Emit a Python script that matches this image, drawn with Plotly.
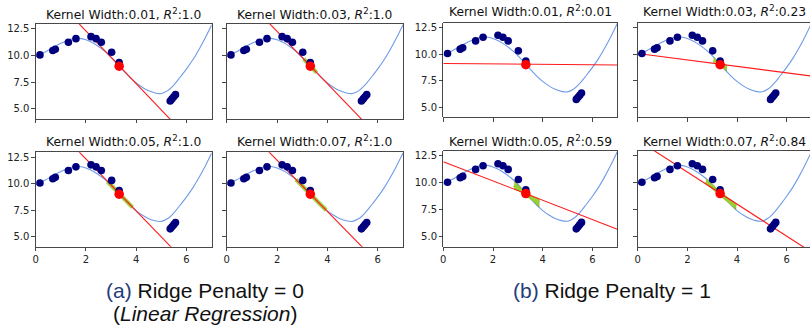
import numpy as np
import plotly.graph_objects as go

# ---------------- data ----------------
curve_x = [0.0, 0.25, 0.5, 0.75, 1.0, 1.25, 1.5, 1.75, 2.0, 2.25, 2.5, 2.75, 3.0, 3.25,
           3.5, 3.75, 4.0, 4.25, 4.5, 4.75, 5.0, 5.25, 5.5, 5.75, 6.0, 6.25, 6.5, 6.75, 7.0]
curve_y = [9.9, 10.2, 10.5, 10.85, 11.15, 11.42, 11.6, 11.62, 11.48, 11.22, 10.85, 10.4, 9.86, 9.2,
           8.55, 7.95, 7.42, 7.0, 6.68, 6.48, 6.43, 6.7, 7.25, 7.98, 8.75, 9.6, 10.6, 11.7, 12.9]

dot_x = [0.17, 0.68, 0.78, 1.30, 1.60, 2.20, 2.40, 2.61, 3.02, 3.32, 5.35, 5.42, 5.49, 5.56]
dot_y = [10.06, 10.47, 10.6, 11.25, 11.59, 11.78, 11.59, 11.25, 10.31, 9.34, 5.72, 5.92, 6.12, 6.32]

inst_x = [3.32]
inst_y = [9.0]

kernel_widths = ["0.01", "0.03", "0.05", "0.07"]
r2_a = ["1.0", "1.0", "1.0", "1.0"]
r2_b = ["0.01", "0.23", "0.59", "0.84"]

# fitted local lines: intercept and slope
line_int_a = [17.27, 17.20, 17.26, 17.08]
line_slope_a = [-2.48, -2.463, -2.463, -2.43]
line_int_b = [9.12, 10.06, 11.97, 13.98]
line_slope_b = [-0.022, -0.305, -0.897, -1.49]

# kernel neighbourhood shown in green
green_lo = [3.30, 3.06, 2.85, 2.75]
green_hi = [3.34, 3.57, 3.85, 3.95]

# ---------------- layout geometry (pixels) ----------------
W, H = 810, 326
col_px = {"a": [(35.7, 211.7), (226.7, 403.0)], "b": [(443.3, 617.3), (637.7, 810.0)]}
row_px = {"a": [(24.0, 119.0), (152.3, 246.7)], "b": [(22.7, 117.3), (150.9, 247.0)]}
title_y = {"a": [14.4, 140.9], "b": [11.2, 140.7]}

fig = go.Figure()
layout = dict(
    width=W, height=H, margin=dict(l=0, r=0, t=0, b=0, autoexpand=False),
    paper_bgcolor="white", plot_bgcolor="white", showlegend=False,
)
annotations = []

def px_x(p):
    return p / W

def px_y(p):
    return 1 - p / H

axis_col = "#1a1a1a"
idx = 0
for g in ["a", "b"]:
    ints = line_int_a if g == "a" else line_int_b
    slopes = line_slope_a if g == "a" else line_slope_b
    r2s = r2_a if g == "a" else r2_b
    for k in range(4):
        idx += 1
        r, c = divmod(k, 2)
        x0, x1 = col_px[g][c]
        y0, y1 = row_px[g][r]
        full_right = 811.5 if x1 >= W - 1 else x1
        xr_max = 7.0 * (x1 - x0) / (full_right - x0)
        xa = "x" if idx == 1 else f"x{idx}"
        ya = "y" if idx == 1 else f"y{idx}"
        # blue function
        fig.add_trace(go.Scatter(x=curve_x, y=curve_y, mode="lines", line=dict(color="#6f9be8", width=1.1, shape="spline"),
                                 xaxis=xa, yaxis=ya, hoverinfo="skip"))
        # green neighbourhood region
        xs = np.linspace(green_lo[k], green_hi[k], 40)
        cy = np.interp(xs, curve_x, curve_y)
        ly = ints[k] + slopes[k] * xs
        fig.add_trace(go.Scatter(x=np.concatenate([xs, xs[::-1]]), y=np.concatenate([cy, ly[::-1]]),
                                 mode="lines", fill="toself", fillcolor="rgba(154,205,50,0.85)",
                                 line=dict(color="rgba(110,160,40,0.9)", width=0.8),
                                 xaxis=xa, yaxis=ya, hoverinfo="skip"))
        fig.add_trace(go.Scatter(x=xs, y=(cy + ly) / 2, mode="lines",
                                 line=dict(color="rgba(154,205,50,0.9)", width=4.2),
                                 xaxis=xa, yaxis=ya, hoverinfo="skip"))
        # red fitted line
        lx = np.array([0.0, 7.0])
        fig.add_trace(go.Scatter(x=lx, y=ints[k] + slopes[k] * lx, mode="lines", line=dict(color="#ff1a1a", width=1.1),
                                 xaxis=xa, yaxis=ya, hoverinfo="skip"))
        # samples
        fig.add_trace(go.Scatter(x=dot_x, y=dot_y, mode="markers", marker=dict(color="#00007f", size=7.6),
                                 xaxis=xa, yaxis=ya, hoverinfo="skip"))
        # explained instance
        fig.add_trace(go.Scatter(x=inst_x, y=inst_y, mode="markers", marker=dict(color="#ff0000", size=9.5),
                                 xaxis=xa, yaxis=ya, hoverinfo="skip"))
        common = dict(showline=True, mirror=True, linecolor=axis_col, linewidth=0.8, ticks="outside",
                      ticklen=3.5, tickwidth=0.8, tickcolor=axis_col, showgrid=False, zeroline=False,
                      automargin=False,
                      tickfont=dict(family="DejaVu Sans", size=10, color="#222"), fixedrange=True)
        layout["xaxis" if idx == 1 else f"xaxis{idx}"] = dict(
            common, domain=[px_x(x0), px_x(x1)], range=[0, xr_max], anchor=ya,
            tickvals=[0, 2, 4, 6], showticklabels=(r == 1))
        layout["yaxis" if idx == 1 else f"yaxis{idx}"] = dict(
            common, domain=[px_y(y1), px_y(y0)], range=[4.03, 12.97], anchor=xa,
            tickvals=[5, 7.5, 10, 12.5], ticktext=["5.0", "7.5", "10.0", "12.5"], showticklabels=(c == 0))
        annotations.append(dict(
            text=f"Kernel Width:{kernel_widths[k]}, <i>R</i><sup>2</sup>:{r2s[k]}",
            x=px_x((x0 + full_right) / 2), y=px_y(title_y[g][r]),
            xref="paper", yref="paper", xanchor="center", yanchor="middle", showarrow=False,
            font=dict(family="DejaVu Sans", size=12.3, color="#111")))

cap_font = dict(family="Liberation Sans", size=21, color="#111")
annotations.append(dict(text="<span style='color:#1f3d7a'>(a)</span> Ridge Penalty = 0",
                        x=px_x(204.5), y=px_y(290), xref="paper", yref="paper", xanchor="center",
                        yanchor="middle", showarrow=False, font=cap_font))
annotations.append(dict(text="(<i>Linear Regression</i>)",
                        x=px_x(205), y=px_y(313), xref="paper", yref="paper", xanchor="center",
                        yanchor="middle", showarrow=False, font=cap_font))
annotations.append(dict(text="<span style='color:#1f3d7a'>(b)</span> Ridge Penalty = 1",
                        x=px_x(612), y=px_y(290), xref="paper", yref="paper", xanchor="center",
                        yanchor="middle", showarrow=False, font=cap_font))
layout["annotations"] = annotations
fig.update_layout(**layout)
fig.write_html("out.html", config={"displayModeBar": False, "staticPlot": True},
               post_script="document.body.style.margin='0';document.body.style.overflow='hidden';")
